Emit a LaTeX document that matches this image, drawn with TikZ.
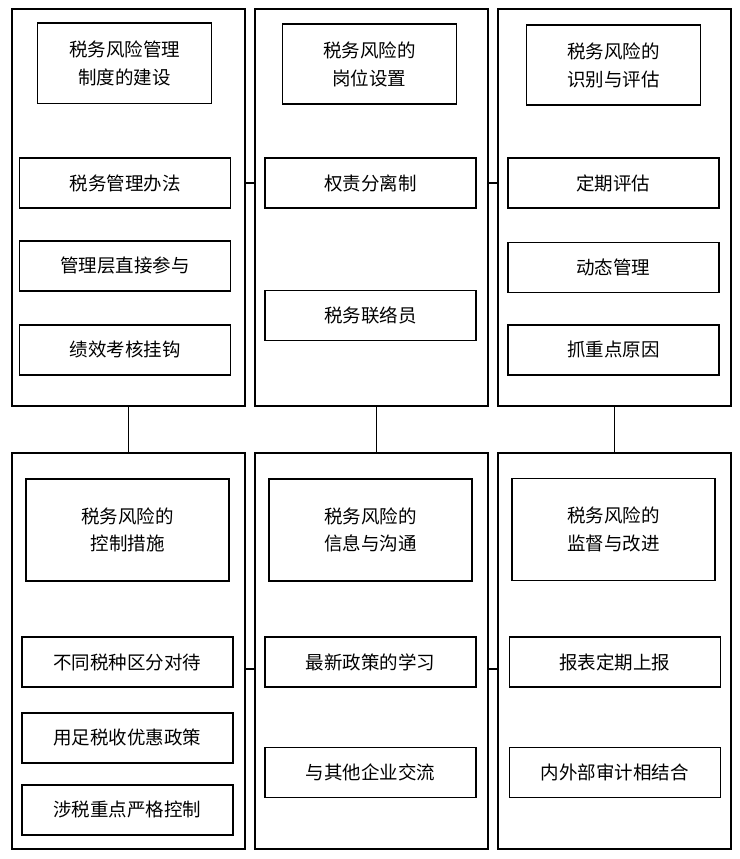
\documentclass[tikz,border=0pt]{standalone}
\usepackage{fontspec}
\newfontfamily\cjk{Noto Sans CJK SC}
\begin{document}
\begin{tikzpicture}[%%
  x=1pt,y=-1pt,%%
  outerStyle/.style={draw,line width=1.8pt,inner sep=0pt,%%
    minimum width=233pt,minimum height=397pt},%%
  titleStyle/.style={draw,line width=1.8pt,inner sep=0pt,align=center,%%
    minimum width=174pt,minimum height=80pt,%%
    font=\cjk\fontsize{18.5}{27.5}\selectfont},%%
  itemStyle/.style={draw,line width=1.8pt,inner sep=0pt,%%
    minimum width=211pt,minimum height=50pt,%%
    font=\cjk\fontsize{18.5}{27.5}\selectfont},%%
  lineStyle/.style={-,line width=1.8pt}%%
]
\useasboundingbox (0,0) rectangle (739,859);
%%
%% Outer frames, top row and bottom row.
\node[outerStyle] (topA) at (128.5,207.5) {};
\node[outerStyle] (topB) at (371.5,207.5) {};
\node[outerStyle] (topC) at (614.5,207.5) {};
\node[outerStyle,minimum height=396pt] (botA) at (128.5,650.7) {};
\node[outerStyle,minimum height=396pt] (botB) at (371.5,650.7) {};
\node[outerStyle,minimum height=396pt] (botC) at (614.5,650.7) {};
%%
%% Titles.
\node[titleStyle] (titleA) at (124.5,63.4) {税务风险管理\\制度的建设};
\node[titleStyle] (titleB) at (369.4,64.2) {税务风险的\\岗位设置};
\node[titleStyle] (titleC) at (613.4,65.3) {税务风险的\\识别与评估};
\node[titleStyle,minimum width=203pt,minimum height=102pt] (titleD)
  at (127.7,529.7) {税务风险的\\控制措施};
\node[titleStyle,minimum width=203pt,minimum height=102pt] (titleE)
  at (370.3,529.7) {税务风险的\\信息与沟通};
\node[titleStyle,minimum width=203pt,minimum height=102pt] (titleF)
  at (613.4,529.5) {税务风险的\\监督与改进};
%%
%% Items of each frame.
\foreach \name/\x/\y/\txt in {%%
  A1/125/183/税务管理办法,A2/125/265.7/管理层直接参与,A3/125/349.9/绩效考核挂钩,%%
  B1/370.3/183/权责分离制,B2/370.3/315.4/税务联络员,%%
  C1/613.4/183/定期评估,C2/613.4/267.5/动态管理,C3/613.4/349.7/抓重点原因,%%
  D1/127.4/662/不同税种区分对待,D2/127.4/737.9/用足税收优惠政策,%%
  D3/127.4/809.9/涉税重点严格控制,%%
  E1/370.3/662/最新政策的学习,E2/370.3/772.4/与其他企业交流,%%
  F1/614.9/662/报表定期上报,F2/614.9/772.4/内外部审计相结合}
  \node[itemStyle] (item\name) at (\x,\y) {\txt};
%%
%% Links between the frames.
\coordinate (linkD) at ([yshift=-7pt]itemD1.east);
\draw[lineStyle] (topA.east |- itemA1) -- (topB.west |- itemA1);
\draw[lineStyle] (topB.east |- itemB1) -- (topC.west |- itemB1);
\draw[lineStyle] (botA.east |- linkD) -- (botB.west |- linkD);
\draw[lineStyle] (botB.east |- linkD) -- (botC.west |- linkD);
\draw[lineStyle] (topA.south) -- (botA.north);
\draw[lineStyle] ([xshift=5pt]topB.south) -- ([xshift=5pt]botB.north);
\draw[lineStyle] (topC.south) -- (botC.north);
\end{tikzpicture}
\end{document}
